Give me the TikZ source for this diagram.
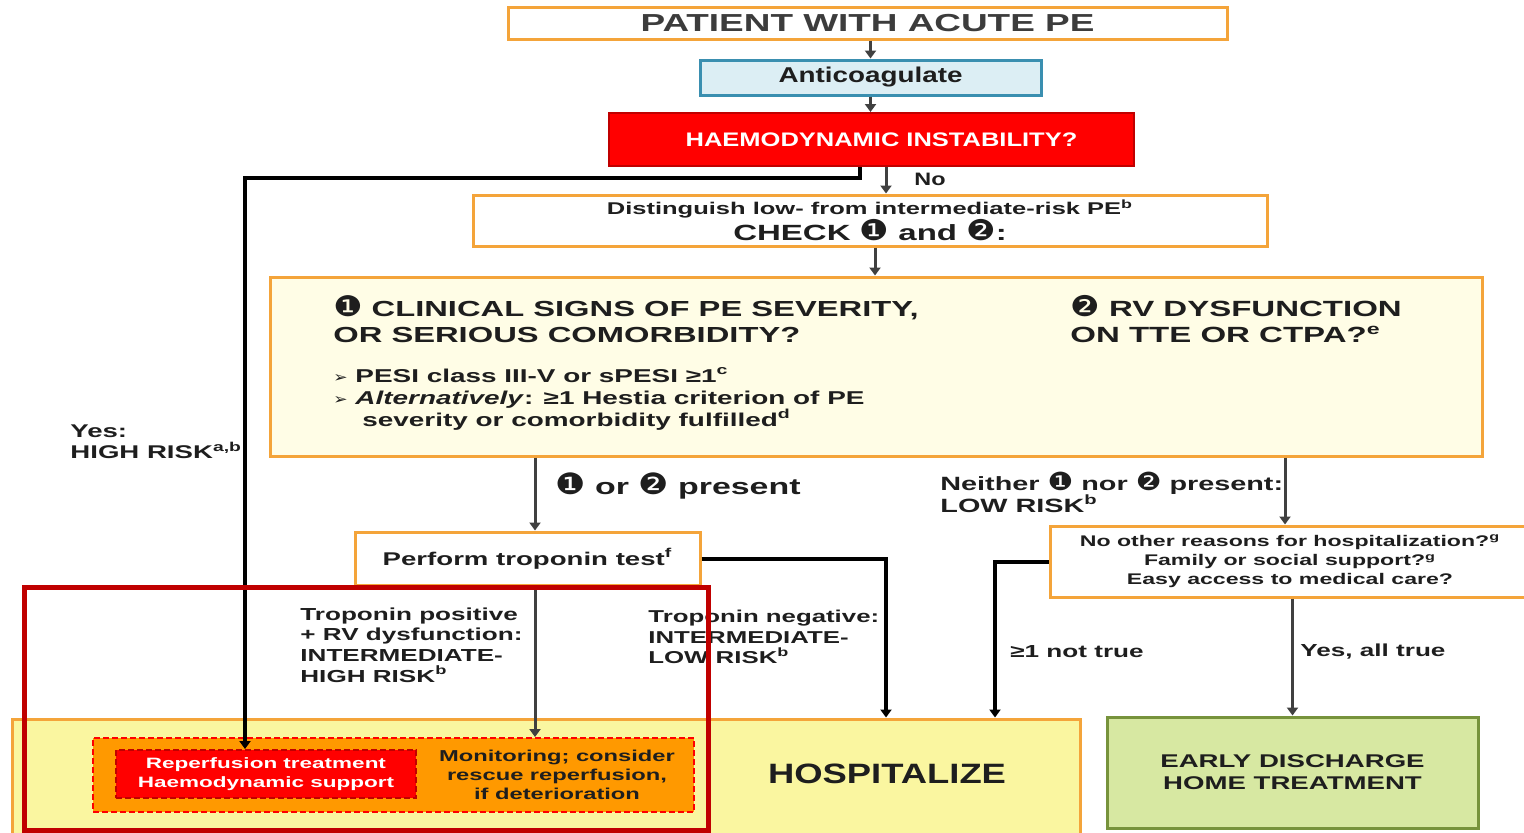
\documentclass[tikz,border=0pt]{standalone}
\usepackage{fontspec}
\setmainfont{Liberation Sans}[FakeStretch=1.5]
\newfontfamily\narrowfont{Liberation Sans}[FakeStretch=1.3]
\newfontfamily\circfont{DejaVu Sans}[FakeStretch=1.15, Scale=1.3]
\usepackage{tikz}
\usetikzlibrary{arrows.meta, calc, positioning}

\definecolor{boxorange}{HTML}{F4A43A}
\definecolor{paleyellow}{HTML}{FFFDE6}
\definecolor{hospyellow}{HTML}{FAF6A0}
\definecolor{monorange}{HTML}{FF9900}
\definecolor{anticoagblue}{HTML}{3A8FB0}
\definecolor{anticoagfill}{HTML}{DCEEF4}
\definecolor{greenborder}{HTML}{77933C}
\definecolor{greenfill}{HTML}{D7E8A2}
\definecolor{darkred}{HTML}{C00000}
\definecolor{linegray}{HTML}{404040}
\definecolor{textgray}{HTML}{1E1E1E}
\definecolor{titlegray}{HTML}{3C3C3C}

\newcommand{\sz}[2]{\fontsize{#1}{#2}\selectfont\bfseries}
\newcommand{\cone}{{\circfont\mdseries ❶}}
\newcommand{\ctwo}{{\circfont\mdseries ❷}}
\newcommand{\tick}{{\circfont\mdseries\addfontfeature{Scale=0.8}➢}}

\begin{document}
\begin{tikzpicture}[x=0.5pt, y=-0.5pt,
  obox/.style={draw=boxorange, line width=1.5pt, fill=white, inner sep=0pt, text=textgray},
  arr/.style={draw=linegray, line width=1.5pt, -{Triangle[length=4pt,width=5.5pt]}},
  blkarr/.style={draw=black, line width=2pt, -{Triangle[length=4pt,width=5.5pt]}},
  lbl/.style={inner sep=0pt, align=left, anchor=west, text=textgray}]
\useasboundingbox (0,0) rectangle (1524,832);

% Main column
\node[obox, minimum width=359.5pt, minimum height=16pt, font=\sz{12.3}{15}, text=titlegray] (patient) at (867.5,23) {PATIENT WITH ACUTE PE};
\node[draw=anticoagblue, fill=anticoagfill, line width=1.5pt, inner sep=0pt, minimum width=170.5pt, minimum height=17.5pt, font=\narrowfont\sz{10.7}{12}, text=textgray] (anticoag) at (870.5,77.5) {Anticoagulate};
\node[draw=darkred, fill=red, line width=1pt, inner sep=0pt, minimum width=262.5pt, minimum height=26.5pt, font=\narrowfont\sz{9.8}{11}, text=white] (haemo) at (871.5,139.5) {\hspace*{10pt}HAEMODYNAMIC INSTABILITY?};
\node[obox, minimum width=397pt, minimum height=25.5pt, align=center, font=\sz{8.5}{12}] (dist) at (870,220.5) {Distinguish low- from intermediate-risk PE\textsuperscript{b}\\{\sz{11}{12}CHECK \cone{} and \ctwo:}};

% Check box with the two criteria
\node[obox, fill=paleyellow, minimum width=606pt, minimum height=89.5pt] (clin) at (876,366.5) {};
\node[lbl, font=\sz{10.9}{13}] (signs) at (333,319) {\cone{} CLINICAL SIGNS OF PE SEVERITY,\\OR SERIOUS COMORBIDITY?};
\node[lbl, font=\sz{9.3}{11}] (bullets) at (333,399) {\tick{} PESI class III-V or sPESI ≥1\textsuperscript{c}\\\tick{} \textit{Alternatively}: ≥1 Hestia criterion of PE\\\hspace*{14.5pt}severity or comorbidity fulfilled\textsuperscript{d}};
\node[lbl, font=\sz{11}{13}] (rvdys) at (1070,319) {\ctwo{} RV DYSFUNCTION\\ON TTE OR CTPA?\textsuperscript{e}};

% Second level
\node[obox, minimum width=172.5pt, minimum height=26.5pt, font=\sz{9.2}{11}] (trop) at (527.5,558.5) {Perform troponin test\textsuperscript{f}};
\node[obox, minimum width=240pt, minimum height=35.5pt, align=center, font=\sz{7.7}{9.5}] (noother) at (1290,561.5) {No other reasons for hospitalization?\textsuperscript{g}\\Family or social support?\textsuperscript{g}\\Easy access to medical care?};

% Outcomes
\node[obox, fill=hospyellow, minimum width=534pt, minimum height=58pt] (hosp) at (546,777) {};
\node[inner sep=0pt, font=\narrowfont\sz{14}{16}, text=textgray] (hosplbl) at (887,774) {HOSPITALIZE};
\node[draw=red, dash pattern=on 3pt off 1.5pt, fill=monorange, line width=1pt, inner sep=0pt, minimum width=300.5pt, minimum height=37pt] (monbox) at (393.5,775) {};
\node[draw=darkred, dash pattern=on 3pt off 1.5pt, fill=red, line width=1pt, inner sep=0pt, minimum width=150pt, minimum height=24pt, align=center, font=\sz{7.5}{9.5}, text=white] (reperf) at (266,774) {Reperfusion treatment\\Haemodynamic support};
\node[inner sep=0pt, align=center, font=\sz{7.9}{9.5}, text=textgray] (monitor) at (557,775) {Monitoring; consider\\rescue reperfusion,\\if deterioration};
\node[draw=greenborder, fill=greenfill, line width=1.5pt, inner sep=0pt, minimum width=185.5pt, minimum height=55.5pt, align=center, font=\sz{9.2}{11}, text=textgray] (early) at (1292.5,772.5) {EARLY DISCHARGE\\HOME TREATMENT};

% Labels
\node[lbl, font=\narrowfont\sz{9}{11}] (nolbl) at (914,179) {No};
\node[lbl, font=\sz{9.2}{10.5}] (yeslbl) at (70,442) {Yes:\\HIGH RISK\textsuperscript{a,b}};
\node[lbl, font=\sz{11.3}{12}] (present) at (555,486) {\cone{} or \ctwo{} present};
\node[lbl, font=\sz{9.6}{11}] (neither) at (940,492) {Neither \cone{} nor \ctwo{} present:\\LOW RISK\textsuperscript{b}};
\node[lbl, font=\sz{8.7}{10.3}] (troppos) at (300,645) {Troponin positive\\+ RV dysfunction:\\INTERMEDIATE-\\HIGH RISK\textsuperscript{b}};
\node[lbl, font=\sz{8.6}{10.3}] (tropneg) at (648,637) {Troponin negative:\\INTERMEDIATE-\\LOW RISK\textsuperscript{b}};
\node[lbl, font=\sz{8.7}{10}] (nottrue) at (1010,652) {≥1 not true};
\node[lbl, font=\sz{8.7}{10}] (alltrue) at (1300,652) {Yes, all true};

% Connectors
\coordinate (yesbend) at (245,178);
\draw[arr] (anticoag.north |- patient.south) -- (anticoag.north);
\draw[arr] (anticoag.south) -- (anticoag.south |- haemo.north);
\draw[blkarr] ([xshift=-5.75pt]haemo.south) |- (yesbend) -- (yesbend |- reperf.north);
\draw[arr] ([xshift=7.25pt]haemo.south) -- ([xshift=7.25pt]haemo.south |- dist.north);
\draw[arr] ([xshift=2.5pt]dist.south) -- ([xshift=2.5pt]dist.south |- clin.north);
\draw[arr] ([xshift=3.75pt]trop.north |- clin.south) -- ([xshift=3.75pt]trop.north);
\draw[arr] ([xshift=-2.5pt]noother.north |- clin.south) -- ([xshift=-2.5pt]noother.north);
\draw[blkarr] (trop.east) -| ([xshift=170pt]hosp.north);
\draw[arr] ([xshift=3.75pt]trop.south) -- ([xshift=3.75pt]trop.south |- monbox.north);
\draw[blkarr] (noother.west) -| ([xshift=224.5pt]hosp.north);
\draw[arr] (early.north |- noother.south) -- (early.north);

% Highlight frame
\draw[draw=darkred, line width=2.5pt] (24,587) rectangle (708,830);
\end{tikzpicture}
\end{document}
